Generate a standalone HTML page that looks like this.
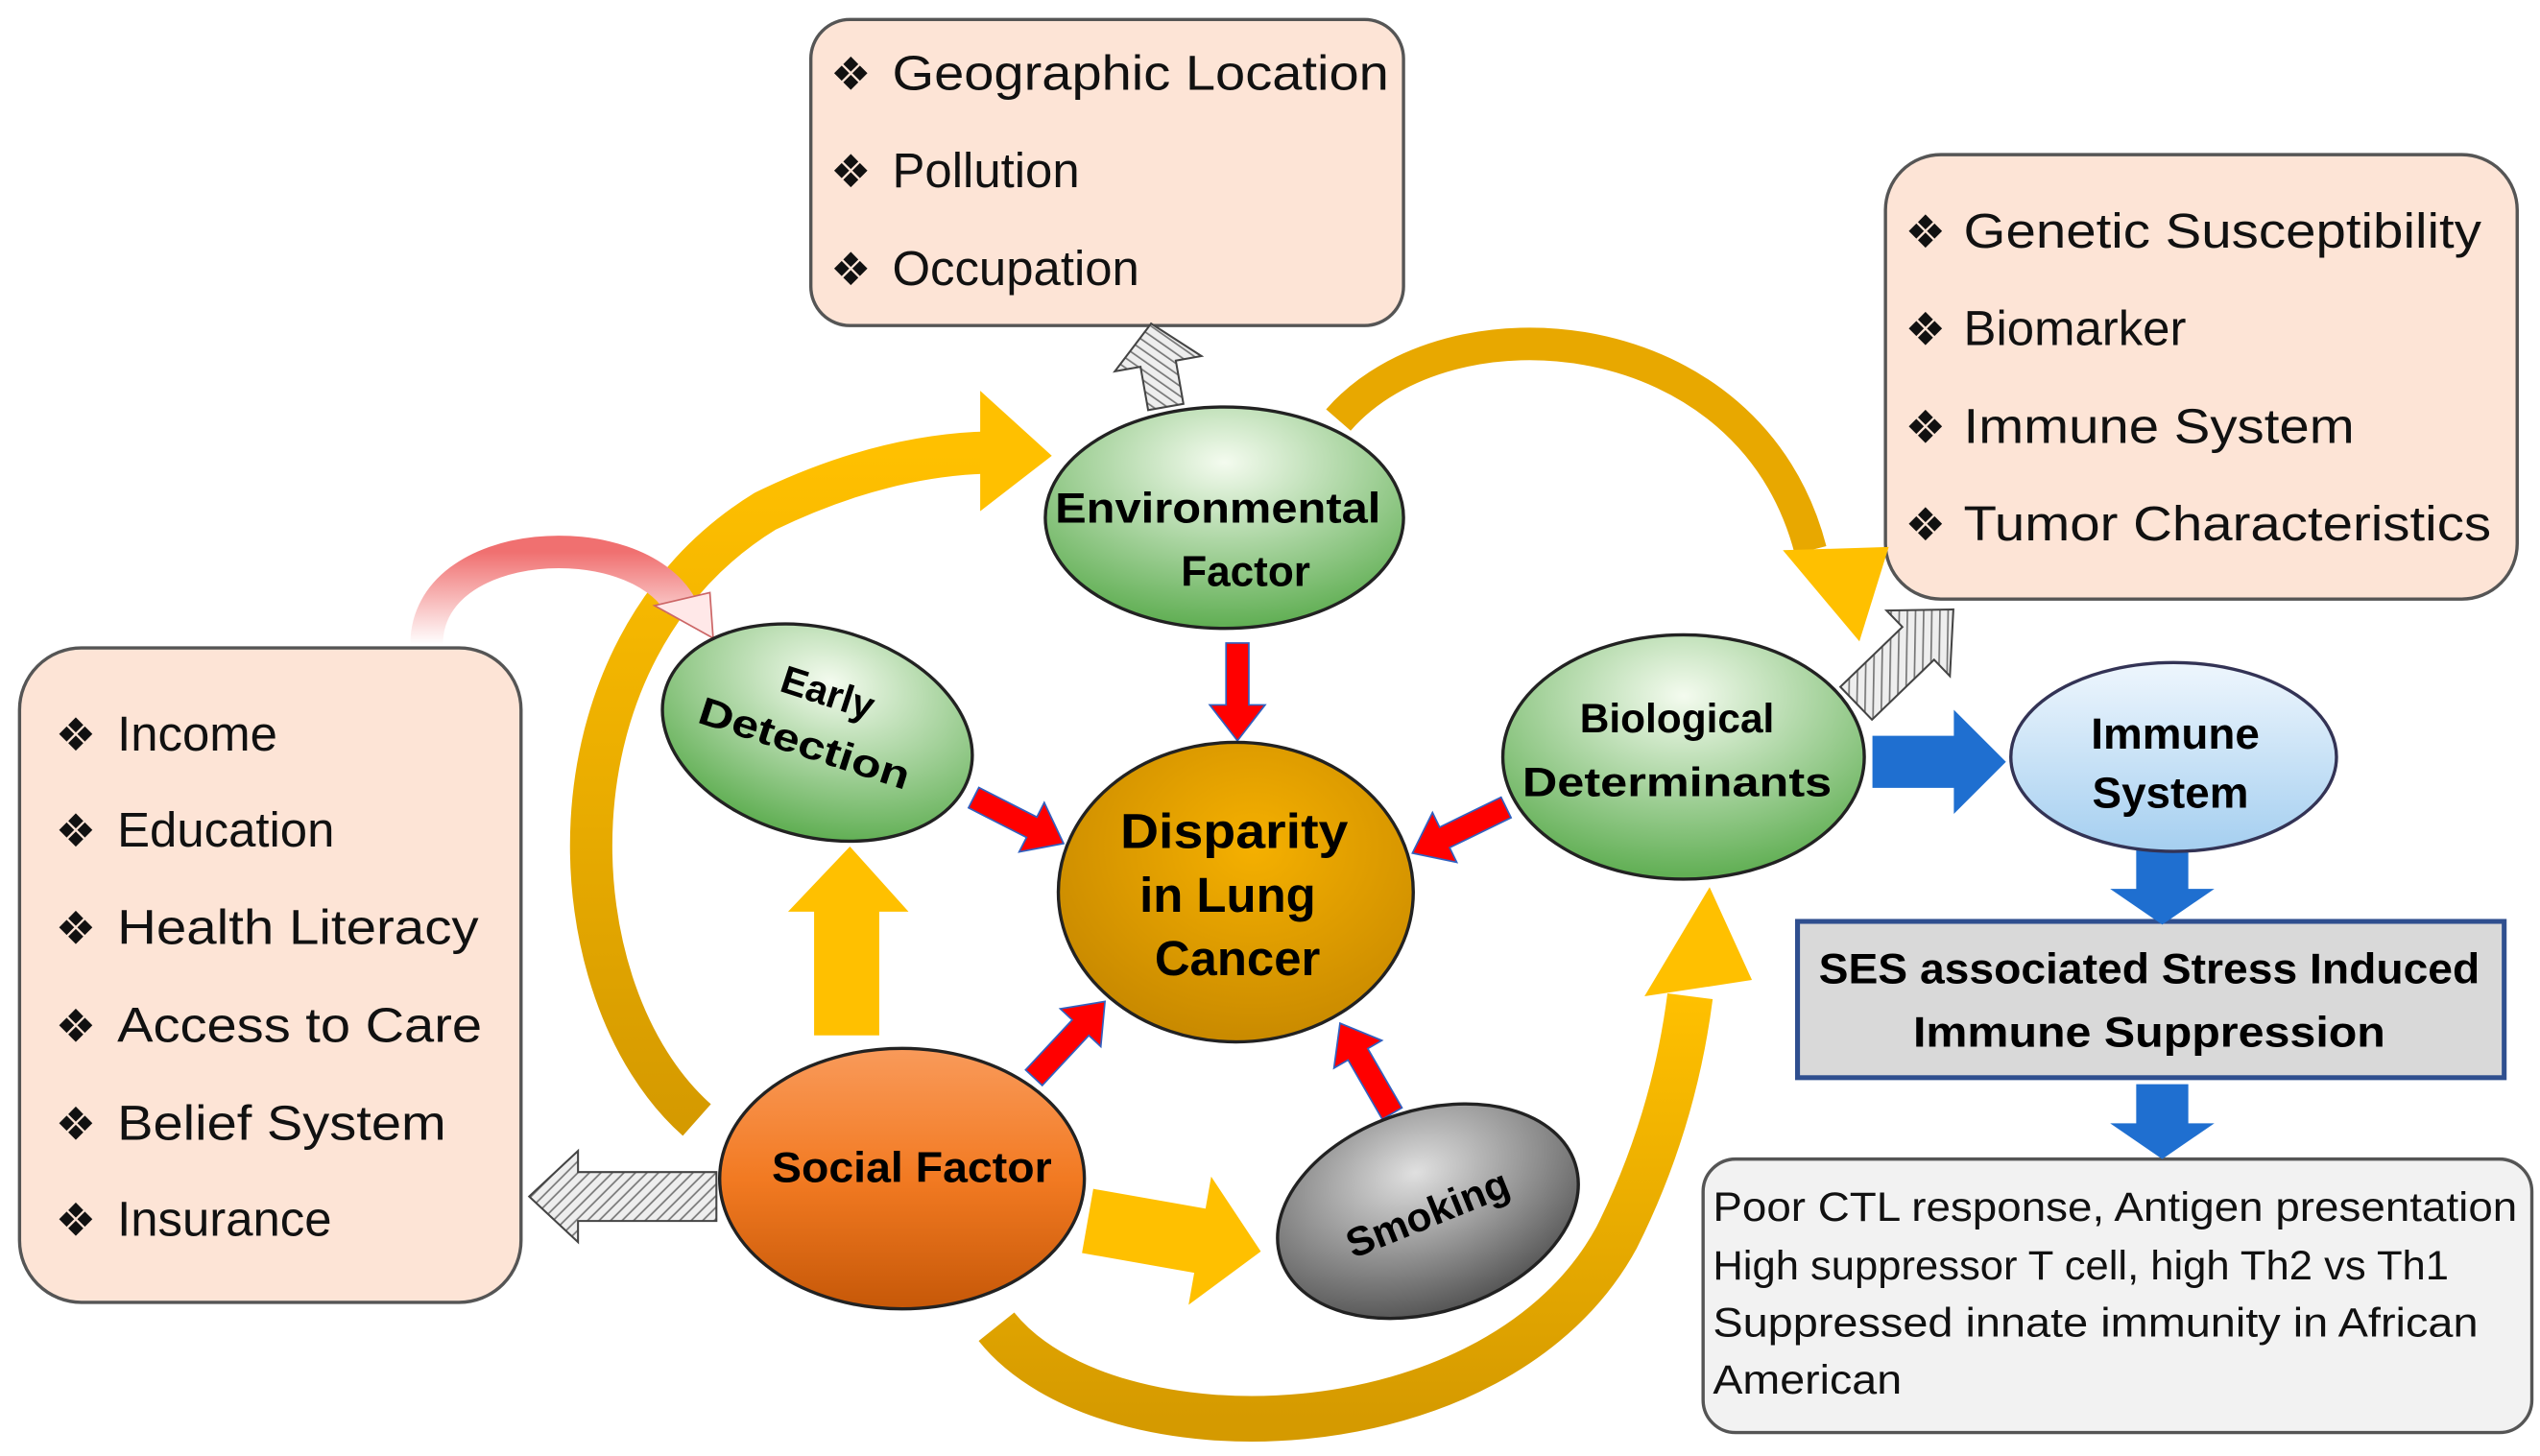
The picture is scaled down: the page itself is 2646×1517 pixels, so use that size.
<!DOCTYPE html>
<html><head><meta charset="utf-8"><style>html,body{margin:0;padding:0;background:#fff}svg{display:block}</style></head>
<body>
<svg width="2646" height="1517" viewBox="0 0 1560 894.4" preserveAspectRatio="none" xmlns="http://www.w3.org/2000/svg" font-family="Liberation Sans, DejaVu Sans, sans-serif">
<defs>
<radialGradient id="gr" cx="50%" cy="25%" r="75%"><stop offset="0" stop-color="#f4fbef"/><stop offset="1" stop-color="#5fae52"/></radialGradient>
<radialGradient id="gd" cx="55%" cy="35%" r="65%"><stop offset="0" stop-color="#f5b000"/><stop offset="1" stop-color="#c98a00"/></radialGradient>
<linearGradient id="go" x1="0" y1="0" x2="0" y2="1"><stop offset="0" stop-color="#f99a5a"/><stop offset="0.5" stop-color="#f27a22"/><stop offset="1" stop-color="#c65808"/></linearGradient>
<radialGradient id="gs" cx="50%" cy="30%" r="70%"><stop offset="0" stop-color="#e0e0e0"/><stop offset="1" stop-color="#555"/></radialGradient>
<linearGradient id="gb" x1="0" y1="0" x2="0" y2="1"><stop offset="0" stop-color="#eef6fd"/><stop offset="1" stop-color="#a5cff0"/></linearGradient>
<linearGradient id="gy" x1="0" y1="0" x2="0" y2="1"><stop offset="0" stop-color="#ffc000"/><stop offset="1" stop-color="#d59a00"/></linearGradient>
<linearGradient id="gp" x1="0" y1="0" x2="0" y2="1"><stop offset="0" stop-color="#f07070"/><stop offset="1" stop-color="#ffffff"/></linearGradient>
<pattern id="ht" width="5" height="5" patternUnits="userSpaceOnUse" patternTransform="rotate(45)"><rect width="5" height="5" fill="#eee"/><line x1="0" y1="0" x2="0" y2="5" stroke="#777" stroke-width="2"/></pattern>
</defs>

<rect x="498" y="12" width="364" height="188" rx="24" fill="#fde4d6" stroke="#555" stroke-width="2"/>
<rect x="1158" y="95" width="388" height="273" rx="34" fill="#fde4d6" stroke="#555" stroke-width="2"/>
<rect x="12" y="398" width="308" height="402" rx="38" fill="#fde4d6" stroke="#555" stroke-width="2"/>
<rect x="1104" y="566" width="434" height="96" fill="#d9d9d9" stroke="#2f4f8f" stroke-width="3"/>
<rect x="1046" y="712" width="509" height="168" rx="20" fill="#f2f2f2" stroke="#555" stroke-width="2"/>

<path d="M 428,688 C 340,610 330,400 470,314 Q 540,280 606,278" fill="none" stroke="url(#gy)" stroke-width="26"/>
<polygon points="602,240 646,280 602,314" fill="#ffc000"/>
<path d="M 822,258 C 890,180 1075,195 1112,338" fill="none" stroke="#e8a800" stroke-width="20"/>
<polygon points="1095,338 1142,394 1160,336" fill="#ffc000"/>
<path d="M 612,815 C 680,900 920,895 993,760 Q 1028,690 1038,612" fill="none" stroke="url(#gy)" stroke-width="28"/>
<polygon points="1010,612 1050,545 1076,602" fill="#ffc000"/>

<path d="M 262,396 C 262,328 390,322 418,372" fill="none" stroke="url(#gp)" stroke-width="20"/>
<polygon points="402,372 438,392 436,364" fill="#ffe8e8" stroke="#c66" stroke-width="1"/>

<g fill="#ffc000">
<polygon points="500,636 540,636 540,560 558,560 522,520 484,560 500,560"/>
<polygon points="0,-20 70,-20 70,-40 108,0 70,40 70,20 0,20" transform="translate(668,750) rotate(10)"/>
</g>

<g fill="#ff0000" stroke="#3060c0" stroke-width="1">
<polygon points="0,-7 38,-7 38,-17 60,0 38,17 38,7 0,7" transform="translate(760,395) rotate(90)"/>
<polygon points="0,-7 40,-7 40,-17 62,0 40,17 40,7 0,7" transform="translate(598,490) rotate(27)"/>
<polygon points="0,-7 42,-7 42,-17 64,0 42,17 42,7 0,7" transform="translate(925,496) rotate(154)"/>
<polygon points="0,-7 42,-7 42,-17 64,0 42,17 42,7 0,7" transform="translate(635,662) rotate(-47)"/>
<polygon points="0,-7 42,-7 42,-17 64,0 42,17 42,7 0,7" transform="translate(855,684) rotate(-120)"/>
</g>

<g fill="#1f6fd0">
<polygon points="0,-16 50,-16 50,-32 82,0 50,32 50,16 0,16" transform="translate(1150,468)"/>
<polygon points="0,-16 24,-16 24,-32 46,0 24,32 24,16 0,16" transform="translate(1328,522) rotate(90)"/>
<polygon points="0,-16 24,-16 24,-32 46,0 24,32 24,16 0,16" transform="translate(1328,666) rotate(90)"/>
</g>

<g fill="url(#ht)" stroke="#444" stroke-width="1.2">
<polygon points="0,-15 85,-15 85,-28 115,0 85,28 85,15 0,15" transform="translate(440,735) rotate(180)"/>
<polygon points="0,-11 27,-11 27,-27 52,0 27,27 27,11 0,11" transform="translate(716,250) rotate(-100)"/>
<polygon points="0,-14 53,-14 53,-28 83,0 53,28 53,14 0,14" transform="translate(1140,432) rotate(-44)"/>
</g>

<g stroke="#222" stroke-width="2">
<ellipse cx="752" cy="318" rx="110" ry="68" fill="url(#gr)"/>
<ellipse cx="502" cy="450" rx="97" ry="64" fill="url(#gr)" transform="rotate(15 502 450)"/>
<ellipse cx="759" cy="548" rx="109" ry="92" fill="url(#gd)"/>
<ellipse cx="1034" cy="465" rx="111" ry="75" fill="url(#gr)"/>
<ellipse cx="1335" cy="465" rx="100" ry="58" fill="url(#gb)" stroke="#335"/>
<ellipse cx="554" cy="724" rx="112" ry="80" fill="url(#go)"/>
<ellipse cx="877" cy="744" rx="95" ry="62" fill="url(#gs)" transform="rotate(-18 877 744)"/>
</g>

<g font-weight="bold" fill="#000" text-anchor="middle">
<text x="748" y="321" font-size="26" textLength="200" lengthAdjust="spacingAndGlyphs">Environmental</text>
<text x="765" y="360" font-size="26">Factor</text>
<g transform="rotate(18 500 445)"><text x="502" y="432" font-size="24">Early</text><text x="498" y="466" font-size="24" textLength="135" lengthAdjust="spacingAndGlyphs">Detection</text></g>
<text x="758" y="521" font-size="30" textLength="140" lengthAdjust="spacingAndGlyphs">Disparity</text>
<text x="754" y="560" font-size="30">in Lung</text>
<text x="760" y="599" font-size="30">Cancer</text>
<text x="1030" y="450" font-size="25">Biological</text>
<text x="1030" y="489" font-size="25" textLength="190" lengthAdjust="spacingAndGlyphs">Determinants</text>
<text x="1336" y="460" font-size="27">Immune</text>
<text x="1333" y="496" font-size="27">System</text>
<text x="560" y="726" font-size="26" textLength="172" lengthAdjust="spacingAndGlyphs">Social Factor</text>
<text x="877" y="754" font-size="25" transform="rotate(-22 877 746)">Smoking</text>
<text x="1320" y="604" font-size="26" textLength="406" lengthAdjust="spacingAndGlyphs">SES associated Stress Induced</text>
<text x="1320" y="643" font-size="26" textLength="290" lengthAdjust="spacingAndGlyphs">Immune Suppression</text>
</g>

<g font-size="30" fill="#111">
<text x="510" y="55" font-size="28">❖</text><text x="548" y="55" textLength="305" lengthAdjust="spacingAndGlyphs">Geographic Location</text>
<text x="510" y="115" font-size="28">❖</text><text x="548" y="115">Pollution</text>
<text x="510" y="175" font-size="28">❖</text><text x="548" y="175">Occupation</text>

<text x="1170" y="152" font-size="28">❖</text><text x="1206" y="152" textLength="318" lengthAdjust="spacingAndGlyphs">Genetic Susceptibility</text>
<text x="1170" y="212" font-size="28">❖</text><text x="1206" y="212">Biomarker</text>
<text x="1170" y="272" font-size="28">❖</text><text x="1206" y="272" textLength="240" lengthAdjust="spacingAndGlyphs">Immune System</text>
<text x="1170" y="332" font-size="28">❖</text><text x="1206" y="332" textLength="324" lengthAdjust="spacingAndGlyphs">Tumor Characteristics</text>

<text x="34" y="461" font-size="28">❖</text><text x="72" y="461">Income</text>
<text x="34" y="520" font-size="28">❖</text><text x="72" y="520">Education</text>
<text x="34" y="580" font-size="28">❖</text><text x="72" y="580" textLength="222" lengthAdjust="spacingAndGlyphs">Health Literacy</text>
<text x="34" y="640" font-size="28">❖</text><text x="72" y="640" textLength="224" lengthAdjust="spacingAndGlyphs">Access to Care</text>
<text x="34" y="700" font-size="28">❖</text><text x="72" y="700" textLength="202" lengthAdjust="spacingAndGlyphs">Belief System</text>
<text x="34" y="759" font-size="28">❖</text><text x="72" y="759">Insurance</text>
</g>

<g font-size="25" fill="#111">
<text x="1052" y="750" textLength="494" lengthAdjust="spacingAndGlyphs">Poor CTL response, Antigen presentation</text>
<text x="1052" y="786" textLength="452" lengthAdjust="spacingAndGlyphs">High suppressor T cell, high Th2 vs Th1</text>
<text x="1052" y="821" textLength="470" lengthAdjust="spacingAndGlyphs">Suppressed innate immunity in African</text>
<text x="1052" y="856" textLength="116" lengthAdjust="spacingAndGlyphs">American</text>
</g>
</svg>
</body></html>
